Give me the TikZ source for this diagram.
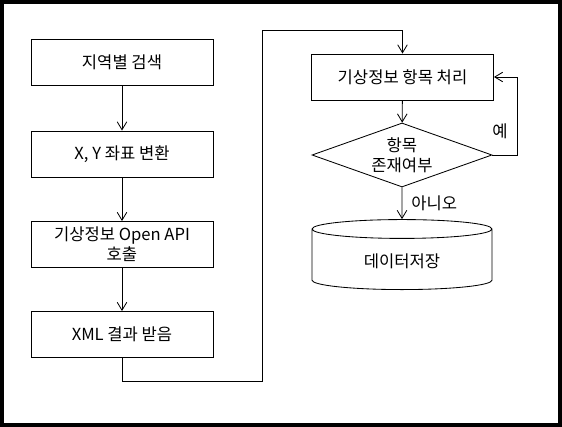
\documentclass[tikz,border=0pt]{standalone}
\usepackage{fontspec}
\newfontfamily\krfont{Noto Sans CJK KR}
\usepackage{tikz}
\usetikzlibrary{arrows.meta,positioning,shapes.geometric}

\begin{document}
\begin{tikzpicture}[x=0.025cm,y=-0.025cm,line width=0.6pt,
  every node/.style={font=\krfont\fontsize{11.8}{14.5}\selectfont},
  box/.style={draw,rectangle,minimum width=4.55cm,minimum height=1.15cm,align=center,inner sep=0pt},
  flow/.style={-{Straight Barb[length=2mm,width=2.4mm]}}]
  \useasboundingbox (0,0) rectangle (562,427);
  \draw[line width=0.11cm] (2.2,2.2) rectangle (559.8,424.8);
  % left column
  \node (s1) [box] at (122,62) {지역별 검색};
  \node (s2) [box] at (122,154) {X, Y 좌표 변환};
  \node (s3) [box] at (122,244.5) {기상정보 Open API\\호출};
  \node (s4) [box] at (122,334.5) {XML 결과 받음};
  % right column
  \node (p1) [box] at (402.5,77) {기상정보 항목 처리};
  \node (d1) [draw,diamond,aspect=2.8,minimum width=4.5cm,minimum height=1.6cm,inner sep=0pt,align=center] at (402,155) {항목\\존재여부};
  \node (c1) [draw,cylinder,shape border rotate=90,aspect=0.22,minimum width=4.5cm,minimum height=1.75cm] at (402,261) {데이터저장};
  \coordinate (k1) at (262,381);
  \coordinate (k2) at (262,30);
  \coordinate (r1) at (517,155);
  \draw[flow] (s1) -- (s2);
  \draw[flow] (s2) -- (s3);
  \draw[flow] (s3) -- (s4);
  \draw[flow] (s4.south) |- (k1) -- (k2) -| (p1.north);
  \draw[flow] (p1) -- (d1);
  \draw[flow] (d1.east) -- (r1) |- node[pos=0.155,left=3pt]{예} (p1.east);
  \draw[flow] (d1) -- node[right=3pt]{아니오} (c1);
\end{tikzpicture}
\end{document}
